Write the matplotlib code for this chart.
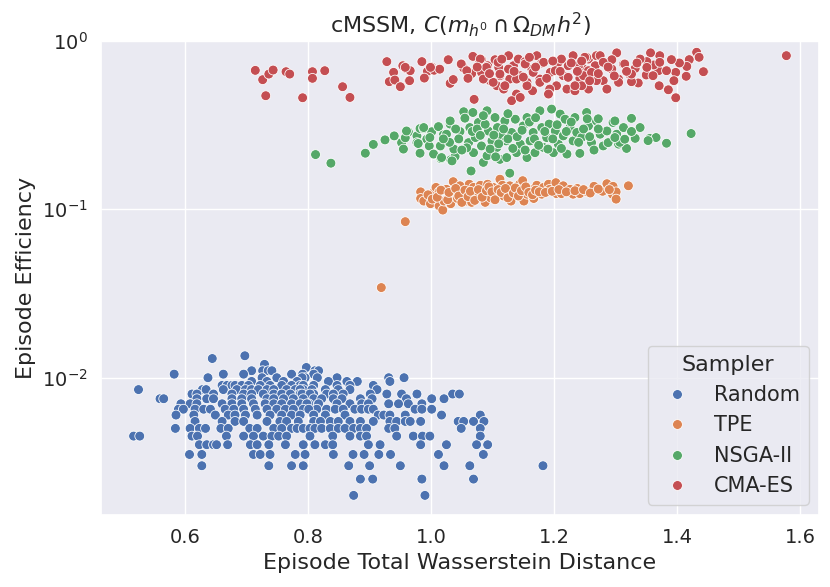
import matplotlib
matplotlib.use("Agg")
import matplotlib.pyplot as plt
import seaborn as sns
import pandas as pd

# Random sampler: efficiency comes in discrete levels, distances per level
random_eff_levels = [0.0135, 0.013, 0.012, 0.0115, 0.011, 0.0105, 0.01, 0.0095, 0.009,
                     0.0085, 0.008, 0.0075, 0.007, 0.0065, 0.006, 0.0055, 0.005,
                     0.0045, 0.004, 0.0035, 0.003, 0.0025, 0.002]
random_dist_rows = [
    [0.697],
    [0.644],
    [0.729],
    [0.797],
    [0.708, 0.726, 0.735, 0.741, 0.811, 0.817],
    [0.582, 0.662, 0.695, 0.773, 0.791, 0.809],
    [0.637, 0.725, 0.749, 0.795, 0.815, 0.790, 0.847, 0.931, 0.956],
    [0.708, 0.733, 0.760, 0.782, 0.833, 0.863, 0.880, 0.933],
    [0.660, 0.668, 0.676, 0.681, 0.692, 0.703, 0.722, 0.738, 0.757, 0.773, 0.787,
     0.809, 0.792, 0.847, 0.868, 0.906],
    [0.524, 0.628, 0.634, 0.662, 0.684, 0.698, 0.708, 0.719, 0.733, 0.744, 0.765,
     0.779, 0.792, 0.806, 0.787, 0.828, 0.849, 0.868, 0.912],
    [0.611, 0.619, 0.646, 0.676, 0.695, 0.708, 0.727, 0.744, 0.757, 0.771, 0.787,
     0.809, 0.790, 0.803, 0.830, 0.841, 0.857, 0.901, 0.928, 0.952, 0.977, 1.035, 1.046],
    [0.559, 0.565, 0.619, 0.635, 0.646, 0.676, 0.692, 0.708, 0.733, 0.744, 0.760,
     0.776, 0.792, 0.809, 0.822, 0.841, 0.855, 0.885, 0.904, 0.960, 1.001, 1.021],
    [0.593, 0.608, 0.619, 0.660, 0.676, 0.692, 0.711, 0.730, 0.744, 0.757, 0.773,
     0.787, 0.801, 0.798, 0.817, 0.847, 0.868, 0.887, 0.898, 0.931, 0.947, 0.963, 0.985],
    [0.589, 0.597, 0.616, 0.630, 0.641, 0.665, 0.679, 0.695, 0.714, 0.733, 0.749,
     0.763, 0.776, 0.792, 0.814, 0.801, 0.830, 0.844, 0.857, 0.876, 0.887, 0.898,
     0.906, 0.974, 0.985, 1.001],
    [0.585, 0.614, 0.649, 0.670, 0.681, 0.698, 0.717, 0.738, 0.757, 0.773, 0.787,
     0.809, 0.828, 0.860, 0.914, 0.923, 0.933, 0.958, 1.017, 1.080],
    [0.616, 0.660, 0.681, 0.695, 0.733, 0.754, 0.765, 0.784, 0.809, 0.820, 0.836,
     0.849, 0.868, 0.885, 0.906, 0.933, 0.944, 0.958, 0.966, 0.983, 1.044, 1.053,
     1.069, 1.086],
    [0.584, 0.608, 0.623, 0.633, 0.658, 0.670, 0.705, 0.717, 0.744, 0.757, 0.773,
     0.782, 0.792, 0.803, 0.811, 0.822, 0.836, 0.849, 0.860, 0.874, 0.885, 0.895,
     0.931, 0.941, 1.049, 1.080],
    [0.516, 0.526, 0.611, 0.620, 0.667, 0.695, 0.711, 0.727, 0.741, 0.752, 0.765,
     0.803, 0.840, 0.868, 0.885, 0.895, 0.944, 0.971, 0.986, 0.998, 1.080],
    [0.623, 0.635, 0.646, 0.651, 0.669, 0.706, 0.717, 0.736, 0.763, 0.792, 0.811,
     0.828, 0.840, 0.898, 0.917, 0.983, 1.025, 1.074, 1.092],
    [0.607, 0.627, 0.711, 0.722, 0.738, 0.779, 0.795, 0.841, 0.873, 0.891, 0.915,
     0.934, 1.012, 1.085],
    [0.627, 0.736, 0.773, 0.792, 0.866, 0.900, 0.950, 1.021, 1.063, 1.182],
    [0.885, 0.905, 0.985, 1.069],
    [0.874, 0.990],
]

tpe_dist = [0.919, 0.958, 0.983, 0.983, 0.988, 0.999, 1.004, 1.008, 1.013, 1.013,
            1.019, 1.021, 1.025, 1.031, 1.032, 1.036, 1.037, 1.043, 1.047, 1.053,
            1.057, 1.062, 1.066, 1.069, 1.074, 1.080, 1.085, 1.088, 1.092, 1.097,
            1.101, 1.106, 1.112, 1.116, 1.118, 1.128, 1.130, 1.139, 1.144, 1.149,
            1.151, 1.156, 1.162, 1.167, 1.172, 1.180, 1.183, 1.191, 1.193, 1.203,
            1.204, 1.212, 1.215, 1.226, 1.231, 1.238, 1.242, 1.254, 1.265, 1.279,
            1.286, 1.296, 1.295, 1.301, 1.301, 1.321,
            0.995, 1.002, 1.010, 1.016, 1.027, 1.029, 1.040, 1.045, 1.050, 1.055,
            1.060, 1.064, 1.071, 1.077, 1.083, 1.090, 1.094, 1.099, 1.104, 1.109,
            1.114, 1.121, 1.125, 1.134, 1.137, 1.142, 1.147, 1.154, 1.159, 1.165,
            1.170, 1.176, 1.186, 1.197, 1.208, 1.220, 1.234, 1.248, 1.259, 1.272, 1.290]
tpe_eff = [0.0343, 0.0845, 0.127, 0.116, 0.112, 0.108, 0.1255, 0.135, 0.127, 0.105,
           0.099, 0.112, 0.1315, 0.121, 0.108, 0.146, 0.127, 0.116, 0.138, 0.1255,
           0.112, 0.141, 0.110, 0.135, 0.124, 0.139, 0.1255, 0.110, 0.141, 0.117,
           0.135, 0.123, 0.151, 0.139, 0.120, 0.138, 0.112, 0.128, 0.141, 0.148,
           0.112, 0.123, 0.1315, 0.116, 0.139, 0.123, 0.135, 0.141, 0.1315, 0.144,
           0.124, 0.124, 0.138, 0.1315, 0.123, 0.133, 0.124, 0.127, 0.137, 0.128,
           0.142, 0.137, 0.123, 0.127, 0.115, 0.138,
           0.122, 0.115, 0.118, 0.130, 0.114, 0.126, 0.133, 0.120, 0.110, 0.130,
           0.119, 0.128, 0.113, 0.131, 0.118, 0.129, 0.136, 0.127, 0.114, 0.131,
           0.126, 0.133, 0.117, 0.125, 0.134, 0.120, 0.129, 0.136, 0.126, 0.122,
           0.130, 0.127, 0.126, 0.128, 0.131, 0.127, 0.129, 0.131, 0.125, 0.132, 0.131]

nsga_dist = [0.812, 0.837, 0.893, 0.906, 0.925, 0.940, 0.952, 0.955, 0.963, 0.958,
             0.977, 0.977, 0.982, 0.988, 0.982, 0.993, 0.997, 1.001, 1.005, 1.016,
             1.016, 1.012, 1.020, 1.031, 1.032, 1.039, 1.053, 1.065,
             0.960, 0.979, 0.988, 0.998, 1.004, 1.015, 1.017, 1.025, 1.031, 1.034,
             1.037, 1.047, 1.055, 1.061, 1.063, 1.068, 1.069, 1.072, 1.077, 1.082,
             1.085, 1.091, 1.091, 1.093, 1.099, 1.104, 1.107, 1.108, 1.112, 1.115,
             1.120, 1.122, 1.123, 1.128, 1.131, 1.137, 1.139, 1.145, 1.150, 1.156,
             1.156, 1.161, 1.166, 1.169, 1.177, 1.180, 1.183, 1.188, 1.192, 1.196,
             1.199, 1.202, 1.207, 1.210, 1.215, 1.218, 1.221, 1.226, 1.231, 1.234,
             1.237, 1.242, 1.245, 1.253, 1.256, 1.261, 1.269, 1.275, 1.280, 1.286,
             1.288, 1.296, 1.302, 1.305,
             1.254, 1.272, 1.299, 1.313, 1.326, 1.340, 1.332, 1.318, 1.307, 1.299,
             1.356, 1.366, 1.353, 1.383, 1.423, 1.326, 1.315,
             1.045, 1.058, 1.067, 1.075, 1.080, 1.088, 1.096, 1.102, 1.110, 1.118,
             1.125, 1.133, 1.140, 1.148, 1.153, 1.160, 1.168, 1.175, 1.185, 1.190,
             1.198, 1.205, 1.212, 1.220, 1.228, 1.240, 1.248, 1.258, 1.265, 1.272,
             1.085, 1.125, 1.170, 1.105, 1.050, 1.030, 1.040, 1.020]
nsga_eff = [0.2115, 0.188, 0.2155, 0.243, 0.2585, 0.273, 0.249, 0.228, 0.2885, 0.266,
            0.273, 0.249, 0.302, 0.302, 0.2155, 0.261, 0.238, 0.289, 0.213, 0.200,
            0.237, 0.310, 0.277, 0.321, 0.197, 0.206, 0.380, 0.169,
            0.292, 0.246, 0.306, 0.267, 0.213, 0.238, 0.203, 0.2795, 0.335, 0.194,
            0.228, 0.290, 0.348, 0.249, 0.306, 0.376, 0.217, 0.267, 0.328, 0.238,
            0.190, 0.385, 0.208, 0.292, 0.255, 0.351, 0.233, 0.306, 0.198, 0.273,
            0.335, 0.255, 0.203, 0.164, 0.286, 0.343, 0.217, 0.244, 0.313, 0.351,
            0.203, 0.255, 0.286, 0.217, 0.385, 0.306, 0.233, 0.267, 0.321, 0.394,
            0.217, 0.292, 0.244, 0.368, 0.273, 0.343, 0.213, 0.306, 0.255, 0.351,
            0.286, 0.215, 0.267, 0.376, 0.313, 0.249, 0.335, 0.2795, 0.238, 0.292,
            0.249, 0.328, 0.2795, 0.244,
            0.345, 0.345, 0.335, 0.306, 0.347, 0.306, 0.264, 0.230, 0.250, 0.267,
            0.264, 0.267, 0.256, 0.247, 0.282, 0.290, 0.261,
            0.262, 0.232, 0.290, 0.300, 0.275, 0.320, 0.228, 0.276, 0.245, 0.300,
            0.262, 0.230, 0.270, 0.295, 0.225, 0.330, 0.262, 0.240, 0.290, 0.228,
            0.262, 0.318, 0.230, 0.290, 0.330, 0.250, 0.300, 0.270, 0.225, 0.300,
            0.360, 0.370, 0.350, 0.205, 0.225, 0.250, 0.300, 0.262]

cma_dist = [0.714, 0.726, 0.736, 0.743, 0.731, 0.764, 0.770, 0.791, 0.807, 0.807,
            0.827, 0.856, 0.868, 0.928, 0.939, 0.932, 0.941, 0.950, 0.954, 0.959,
            0.966, 0.964, 0.985, 0.990, 0.994, 1.001, 1.005, 1.014, 1.027, 1.031,
            1.036, 1.050, 1.053, 1.066, 1.070, 1.078,
            0.958, 0.965, 0.989, 0.999, 1.028, 1.049, 1.068, 1.082, 1.082, 1.092,
            1.096, 1.104, 1.107, 1.112, 1.110, 1.118, 1.126, 1.128, 1.134, 1.131,
            1.142, 1.145, 1.139, 1.153, 1.156, 1.164, 1.165, 1.172, 1.177, 1.180,
            1.191, 1.194, 1.204, 1.207, 1.215, 1.221, 1.223, 1.231, 1.234, 1.242,
            1.248, 1.256, 1.256, 1.264, 1.269,
            1.432, 1.436, 1.578, 1.444, 1.420, 1.416, 1.415, 1.398, 1.395, 1.398,
            1.386, 1.371, 1.404, 1.391, 1.372, 1.357, 1.370, 1.362, 1.351, 1.350,
            1.337, 1.332, 1.324, 1.326, 1.313, 1.302, 1.305, 1.286, 1.294, 1.280,
            1.275, 1.267, 1.256, 1.253, 1.245, 1.264, 1.248,
            1.058, 1.080, 1.085, 1.090, 1.101, 1.109, 1.112, 1.120, 1.126, 1.139,
            1.153, 1.156, 1.166, 1.177, 1.183, 1.193, 1.202, 1.212, 1.223, 1.234,
            1.240, 1.250, 1.261, 1.269, 1.280, 1.294, 1.305, 1.315, 1.326, 1.340,
            1.351, 1.361, 1.372, 1.383,
            1.131, 1.145, 1.191, 1.286, 1.443,
            1.060, 1.075, 1.095, 1.115, 1.135, 1.150, 1.170, 1.188, 1.198, 1.210,
            1.228, 1.238, 1.258, 1.272, 1.288, 1.298, 1.318, 1.335, 1.160, 1.245]
cma_eff = [0.669, 0.589, 0.636, 0.672, 0.473, 0.657, 0.636, 0.460, 0.657, 0.600,
           0.666, 0.535, 0.462, 0.754, 0.651, 0.573, 0.586, 0.535, 0.713, 0.687,
           0.666, 0.581, 0.754, 0.608, 0.660, 0.700, 0.670, 0.680, 0.770, 0.560,
           0.590, 0.730, 0.690, 0.640, 0.450, 0.780,
           0.697, 0.581, 0.602, 0.697, 0.774, 0.730, 0.810, 0.774, 0.651, 0.713,
           0.581, 0.774, 0.542, 0.622, 0.697, 0.518, 0.818, 0.594, 0.713, 0.442,
           0.781, 0.622, 0.484, 0.754, 0.568, 0.681, 0.506, 0.818, 0.594, 0.740,
           0.484, 0.651, 0.542, 0.747, 0.622, 0.518, 0.713, 0.818, 0.506, 0.600,
           0.681, 0.518, 0.781, 0.666, 0.818,
           0.857, 0.800, 0.818, 0.657, 0.775, 0.706, 0.617, 0.651, 0.581, 0.460,
           0.513, 0.542, 0.740, 0.775, 0.818, 0.850, 0.666, 0.720, 0.754, 0.628,
           0.563, 0.687, 0.628, 0.573, 0.730, 0.850, 0.594, 0.518, 0.774, 0.581,
           0.818, 0.713, 0.666, 0.800, 0.542, 0.594, 0.622,
           0.666, 0.781, 0.594, 0.697, 0.568, 0.747, 0.636, 0.542, 0.681, 0.594,
           0.730, 0.542, 0.651, 0.568, 0.747, 0.518, 0.666, 0.781, 0.608, 0.542,
           0.713, 0.800, 0.651, 0.581, 0.747, 0.681, 0.568, 0.730, 0.636, 0.781,
           0.697, 0.622, 0.747, 0.666,
           0.442, 0.462, 0.484, 0.518, 0.657,
           0.600, 0.700, 0.640, 0.780, 0.660, 0.610, 0.700, 0.600, 0.760, 0.660,
           0.740, 0.660, 0.580, 0.640, 0.700, 0.620, 0.660, 0.740, 0.800, 0.760]

samplers = ["Random", "TPE", "NSGA-II", "CMA-ES"]

# build the long table seaborn wants
rows = []
for eff, dists in zip(random_eff_levels, random_dist_rows):
    for d in dists:
        rows.append(("Random", d, eff))
for name, xs, ys in [("TPE", tpe_dist, tpe_eff),
                     ("NSGA-II", nsga_dist, nsga_eff),
                     ("CMA-ES", cma_dist, cma_eff)]:
    for d, e in zip(xs, ys):
        rows.append((name, d, e))
df = pd.DataFrame(rows, columns=["Sampler", "Episode Total Wasserstein Distance",
                                 "Episode Efficiency"])

sns.set_theme(style="darkgrid")
plt.rcParams['font.family'] = ['DejaVu Sans']

fig = plt.figure(figsize=(8.3, 5.87), dpi=100)
ax = fig.add_axes([0.1217, 0.1227, 0.865, 0.8075])
sns.scatterplot(data=df, x="Episode Total Wasserstein Distance", y="Episode Efficiency",
                hue="Sampler", hue_order=samplers, ax=ax, s=50)
ax.set_yscale("log")
ax.set_xlim(0.463, 1.631)
ax.set_ylim(0.00153, 1.0)
ax.set_xticks([0.6, 0.8, 1.0, 1.2, 1.4, 1.6])
ax.tick_params(labelsize=14)
ax.set_xlabel("Episode Total Wasserstein Distance", fontsize=16)
ax.set_ylabel("Episode Efficiency", fontsize=16)
ax.set_title(r"cMSSM, $C(m_{h^0} \cap \Omega_{DM} h^2)$", fontsize=16)
ax.legend(title="Sampler", loc="lower right", fontsize=15, title_fontsize=16)

fig.savefig("out.png", dpi=100)
